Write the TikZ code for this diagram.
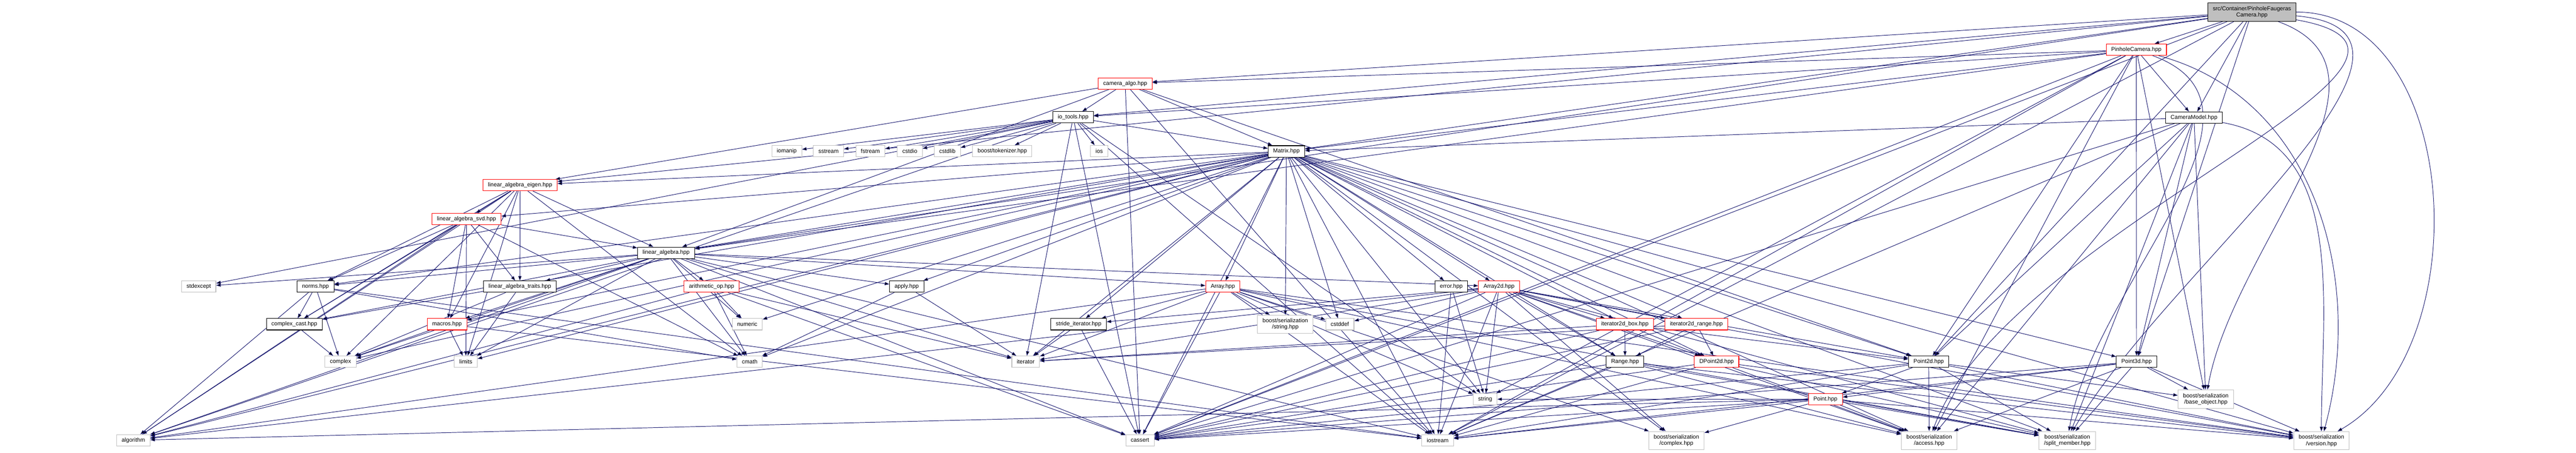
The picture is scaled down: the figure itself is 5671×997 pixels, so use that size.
\documentclass[tikz,border=0pt]{standalone}
\usepackage{fontspec}
\setmainfont{Liberation Sans}
\usetikzlibrary{arrows.meta}
\definecolor{depblue}{HTML}{191970}
\definecolor{sysgray}{HTML}{BFBFBF}
\pgfdeclarelayer{background}
\pgfsetlayers{background,main}
\tikzset{
  hdr/.style={draw=black, fill=white, line width=1.2pt, inner xsep=11pt, inner ysep=0pt,
    minimum height=25pt, align=center, font=\fontsize{12.5}{14}\selectfont},
  hdrred/.style={hdr, draw=red},
  hdrsys/.style={hdr, draw=sysgray},
  hdrroot/.style={hdr, fill=sysgray, minimum height=41pt},
  dep/.style={draw=depblue, line width=1.1pt, -{Triangle[length=10pt,width=7pt]}}
}

\begin{document}
\begin{tikzpicture}
  % Рамка рисунка
  \useasboundingbox (0,0) rectangle (5671pt,-997pt);
  \begin{scope}[x=1pt,y=1pt]
  % Корневой файл и камеры
  \node[hdrroot] (cam) at (4957.5,-26.5) {src/Container/PinholeFaugeras\\Camera.hpp};
  \node[hdrred] (pinhole) at (4703,-109.5) {PinholeCamera.hpp};
  \node[hdr] (cammodel) at (4830,-259) {CameraModel.hpp};
  \node[hdrred] (camalgo) at (2477,-184) {camera\_algo.hpp};
  \node[hdr] (iotools) at (2362.5,-258.5) {io\_tools.hpp};
  \node[hdrsys] (ios) at (2420,-333) {ios};
  \node[hdr] (matrix) at (2832,-333.5) {Matrix.hpp};
  % Стандартные заголовки ввода-вывода
  \node[hdrsys] (iomanip) at (1732,-333) {iomanip};
  \node[hdrsys] (sstream) at (1824,-333) {sstream};
  \node[hdrsys] (fstream) at (1916,-333) {fstream};
  \node[hdrsys] (cstdio) at (2003,-333) {cstdio};
  \node[hdrsys] (cstdlib) at (2085.5,-333) {cstdlib};
  \node[hdrsys] (tokenizer) at (2206.5,-333) {boost/tokenizer.hpp};
  % Линейная алгебра
  \node[hdrred] (laeigen) at (1145,-408) {linear\_algebra\_eigen.hpp};
  \node[hdrred] (lasvd) at (1027,-482.5) {linear\_algebra\_svd.hpp};
  \node[hdr] (la) at (1466.5,-557) {linear\_algebra.hpp};
  \node[hdrsys] (stdexcept) at (437.5,-631.5) {stdexcept};
  \node[hdr] (norms) at (694.5,-631.5) {norms.hpp};
  \node[hdr] (latraits) at (1144.5,-631.5) {linear\_algebra\_traits.hpp};
  \node[hdrred] (arith) at (1566.5,-631.5) {arithmetic\_op.hpp};
  \node[hdr] (apply) at (1996,-631.5) {apply.hpp};
  \node[hdr] (complexcast) at (648,-714.5) {complex\_cast.hpp};
  \node[hdrred] (macros) at (984,-714.5) {macros.hpp};
  \node[hdrsys] (numeric) at (1645,-714.5) {numeric};
  \node[hdrsys] (complex) at (749.5,-797) {complex};
  \node[hdrsys] (limits) at (1025.5,-797) {limits};
  \node[hdrsys] (cmath) at (1650.5,-797) {cmath};
  \node[hdrsys] (algorithm) at (293.5,-970) {algorithm};
  % Массивы и итераторы
  \node[hdrred] (array) at (2692,-631.5) {Array.hpp};
  \node[hdr] (error) at (3195,-631.5) {error.hpp};
  \node[hdrred] (array2d) at (3300,-631.5) {Array2d.hpp};
  \node[hdr] (strideit) at (2374.5,-714.5) {stride\_iterator.hpp};
  \node[hdrsys, minimum height=40pt] (bstring) at (2829.5,-714.5) {boost/serialization\\/string.hpp};
  \node[hdrsys] (cstddef) at (2949.5,-714.5) {cstddef};
  \node[hdrred] (itbox) at (3577,-714.5) {iterator2d\_box.hpp};
  \node[hdrred] (itrange) at (3734.5,-714.5) {iterator2d\_range.hpp};
  \node[hdrsys] (iterator) at (2258,-797) {iterator};
  \node[hdr] (range) at (3577.5,-797) {Range.hpp};
  \node[hdrred] (dpoint2d) at (3779,-797) {DPoint2d.hpp};
  \node[hdr] (point2d) at (4246,-797) {Point2d.hpp};
  \node[hdr] (point3d) at (4703.5,-797) {Point3d.hpp};
  \node[hdrsys] (string) at (3269.5,-879.5) {string};
  \node[hdrred] (point) at (4018.5,-879.5) {Point.hpp};
  \node[hdrsys] (cassert) at (2509.5,-970) {cassert};
  \node[hdrsys] (iostream) at (3165,-970) {iostream};
  % Сериализация boost
  \node[hdrsys, minimum height=41pt] (bbase) at (4856,-879.5) {boost/serialization\\/base\_object.hpp};
  \node[hdrsys, minimum height=40pt] (bcomplex) at (3690.5,-970.5) {boost/serialization\\/complex.hpp};
  \node[hdrsys, minimum height=40pt] (baccess) at (4247,-970.5) {boost/serialization\\/access.hpp};
  \node[hdrsys, minimum height=40pt] (bsplit) at (4551,-970.5) {boost/serialization\\/split\_member.hpp};
  \node[hdrsys, minimum height=40pt] (bversion) at (5110.5,-971) {boost/serialization\\/version.hpp};

  % Зависимости
  \begin{pgfonlayer}{background}
  \draw[dep] (cam) edge (pinhole) edge (cammodel) edge (camalgo) edge (iotools)
    edge (matrix) edge (laeigen) edge (la) edge (point2d) edge (point3d)
    edge (cassert) edge (iostream) edge[out=-20,in=80] (bbase) edge[out=-10,in=70] (baccess)
    edge[out=-5,in=60] (bsplit) edge[out=0,in=30] (bversion);
  \draw[dep] (pinhole) edge (cammodel) edge (camalgo) edge (iotools) edge (matrix) edge (la)
    edge (point2d) edge (point3d) edge (cassert) edge (iostream) edge (string) edge (baccess)
    edge[out=-20,in=80] (bsplit) edge[out=-15,in=75] (bversion) edge (bbase);
  \draw[dep] (cammodel) edge (matrix) edge (point2d) edge (point3d) edge (cassert) edge (iostream)
    edge (baccess) edge (bsplit) edge[out=-10,in=90] (bversion) edge (bbase);
  \draw[dep] (camalgo) edge (iotools) edge (matrix) edge (la) edge (laeigen) edge (point2d)
    edge (cassert) edge (iostream);
  \draw[dep] (iotools) edge (ios) edge (iomanip) edge (sstream) edge (fstream) edge (cstdio)
    edge (cstdlib) edge (tokenizer) edge (matrix) edge (stdexcept) edge (string) edge (iostream)
    edge (algorithm) edge (cassert) edge (iterator);
  \draw[dep] (matrix) edge (laeigen) edge (lasvd) edge (la) edge (norms) edge (complexcast)
    edge (macros) edge (array) edge (array2d) edge (error) edge (strideit) edge (bstring)
    edge (cstddef) edge (numeric) edge (cmath) edge (apply) edge (iterator) edge (itbox)
    edge (itrange) edge (range) edge (dpoint2d) edge (point2d) edge (point3d) edge (cassert)
    edge (iostream) edge (string) edge (algorithm) edge (limits) edge (complex) edge (bcomplex)
    edge (baccess) edge (bsplit) edge (bversion);
  \draw[dep] (laeigen) edge (lasvd) edge (la) edge (norms) edge (latraits) edge (complexcast)
    edge (macros) edge (algorithm) edge (limits) edge (complex) edge (cmath);
  \draw[dep] (lasvd) edge (la) edge (latraits) edge (norms) edge (macros) edge (complexcast)
    edge (algorithm) edge (limits) edge (cmath);
  \draw[dep] (la) edge (norms) edge (latraits) edge (arith) edge (apply) edge (numeric) edge (cmath)
    edge (complexcast) edge (macros) edge (stdexcept) edge (complex) edge (limits) edge (algorithm)
    edge (array) edge (array2d) edge (iterator) edge (cassert) edge (iostream);
  \draw[dep] (norms) edge (complexcast) edge (complex) edge (cmath) edge (algorithm) edge (iostream);
  \draw[dep] (latraits) edge (complex) edge (limits);
  \draw[dep] (arith) edge (numeric) edge (cmath) edge (iterator) edge (cassert) edge (algorithm);
  \draw[dep] (apply) edge (cmath) edge (iterator);
  \draw[dep] (complexcast) edge (complex);
  \draw[dep] (macros) edge (complex) edge (limits) edge (iostream);
  \draw[dep] (array) edge (strideit) edge (bstring) edge (cstddef) edge (cassert) edge (iostream)
    edge (iterator) edge (algorithm) edge (string) edge (bcomplex) edge (baccess) edge (bsplit)
    edge (bversion);
  \draw[dep] (array2d) edge (strideit) edge (cstddef) edge (string) edge (cassert) edge (iostream)
    edge (iterator) edge (algorithm) edge (itbox) edge (itrange) edge (range) edge (dpoint2d)
    edge (point2d) edge (bcomplex) edge (baccess) edge (bsplit) edge (bversion);
  \draw[dep] (error) edge (string) edge (iostream);
  \draw[dep] (strideit) edge (iterator) edge (cassert);
  \draw[dep] (itbox) edge (range) edge (dpoint2d) edge (point2d) edge (iterator) edge (cassert);
  \draw[dep] (itrange) edge (range) edge (dpoint2d) edge (iterator) edge (cassert);
  \draw[dep] (range) edge (cassert) edge (iostream) edge (baccess) edge (bsplit) edge (bversion);
  \draw[dep] (dpoint2d) edge (cassert) edge (iostream) edge (baccess) edge (bsplit) edge (bversion);
  \draw[dep] (point2d) edge (point) edge (baccess) edge (bsplit) edge (bversion) edge (bbase)
    edge (iostream) edge (cassert);
  \draw[dep] (point3d) edge (point) edge (baccess) edge (bsplit) edge (bversion) edge (bbase)
    edge (cassert) edge (iostream);
  \draw[dep] (point) edge (cassert) edge (iostream) edge (string) edge (bcomplex) edge (baccess)
    edge (bsplit) edge (bversion) edge (algorithm);
  \end{pgfonlayer}
  \end{scope}
\end{tikzpicture}
\end{document}
